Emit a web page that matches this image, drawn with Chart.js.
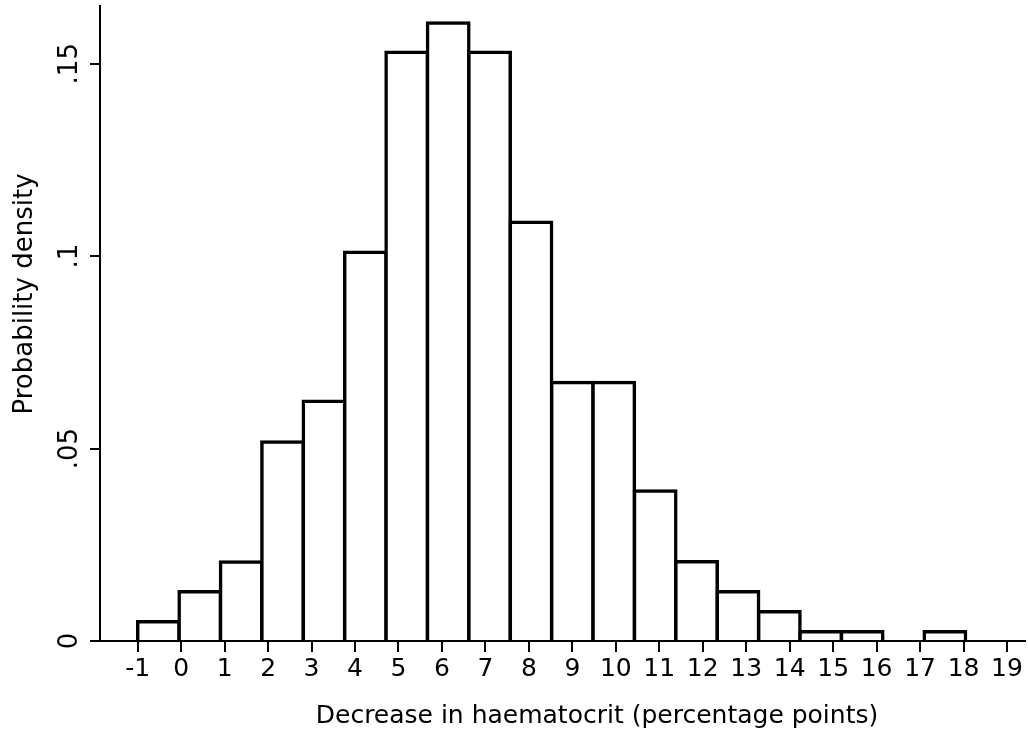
<!DOCTYPE html>
<html>
<head>
<meta charset="utf-8">
<script src="https://cdn.jsdelivr.net/npm/chart.js@4/dist/chart.umd.min.js"></script>
<style>
html,body{margin:0;padding:0;background:#fff;}
canvas{display:block;}
</style>
</head>
<body>
<canvas id="c" width="1028" height="736"></canvas>
<script>
// Bin centres (21 equal bins spanning -1 .. 19)
const binCenters = [-0.524, 0.429, 1.381, 2.333, 3.286, 4.238, 5.190, 6.143, 7.095, 8.048, 9.000,
                    9.952, 10.905, 11.857, 12.810, 13.762, 14.714, 15.667, 16.619, 17.571, 18.524];
// Probability density per bin
const densities = [0.0050, 0.0128, 0.0205, 0.0517, 0.0623, 0.1010, 0.1530, 0.1606, 0.1530, 0.1088, 0.0672,
                   0.0672, 0.0390, 0.0206, 0.0128, 0.0076, 0.0024, 0.0024, 0, 0.0024, 0];
const xTickValues = [-1, 0, 1, 2, 3, 4, 5, 6, 7, 8, 9, 10, 11, 12, 13, 14, 15, 16, 17, 18, 19];
const yTickValues = [0, 0.05, 0.1, 0.15];
const yTickLabels = ['0', '.05', '.1', '.15'];
const xTitle = 'Decrease in haematocrit (percentage points)';
const yTitle = 'Probability density';

const FONT = '"DejaVu Sans", sans-serif';

const textPlugin = {
  id: 'axisText',
  afterDraw(chart) {
    const ctx = chart.ctx;
    const ys = chart.scales.y;
    ctx.save();
    ctx.fillStyle = '#000';
    // rotated y tick labels
    ctx.font = '26px ' + FONT;
    ctx.textAlign = 'center';
    ctx.textBaseline = 'alphabetic';
    ys.ticks.forEach((t) => {
      const py = ys.getPixelForValue(t.value);
      ctx.save();
      ctx.translate(77, py);
      ctx.rotate(-Math.PI / 2);
      ctx.fillText(t.label, 0, 0);
      ctx.restore();
    });
    // axis titles
    ctx.font = '25px ' + FONT;
    ctx.fillText(xTitle, 597, 723);
    ctx.save();
    ctx.translate(32, 294);
    ctx.rotate(-Math.PI / 2);
    ctx.font = '26px ' + FONT;
    ctx.fillText(yTitle, 0, 0);
    ctx.restore();
    ctx.restore();
  }
};

new Chart(document.getElementById('c'), {
  type: 'bar',
  data: {
    datasets: [{
      data: binCenters.map((x, i) => ({ x: x, y: densities[i] })),
      backgroundColor: '#ffffff',
      borderColor: '#000000',
      borderWidth: 3.5,
      inflateAmount: 1.75,
      borderSkipped: 'start',
      barPercentage: 1,
      categoryPercentage: 1,
      clip: 0
    }]
  },
  options: {
    responsive: false,
    animation: false,
    devicePixelRatio: 1,
    layout: { padding: { top: 6, right: 3, left: 0, bottom: 0 } },
    plugins: { legend: { display: false }, tooltip: { enabled: false }, title: { display: false } },
    scales: {
      x: {
        type: 'linear',
        offset: false,
        min: -1.867,
        max: 19.414,
        z: 1,
        afterBuildTicks: (s) => { s.ticks = xTickValues.map(v => ({ value: v })); },
        afterFit: (s) => { s.height = 95; },
        grid: { offset: false, drawOnChartArea: false, drawTicks: true, tickLength: 11, color: '#000', lineWidth: 2 },
        border: { display: true, color: '#000', width: 2 },
        ticks: {
          autoSkip: false, maxRotation: 0, minRotation: 0, padding: 2, color: '#000',
          font: { family: FONT, size: 25 },
          callback: (v) => String(v)
        }
      },
      y: {
        type: 'linear',
        min: 0,
        max: 0.165,
        z: 1,
        afterBuildTicks: (s) => { s.ticks = yTickValues.map(v => ({ value: v })); },
        afterFit: (s) => { s.width = 100; },
        grid: { drawOnChartArea: false, drawTicks: true, tickLength: 10, color: '#000', lineWidth: 2 },
        border: { display: true, color: '#000', width: 2 },
        ticks: {
          display: false,
          callback: (v) => yTickLabels[yTickValues.indexOf(v)]
        }
      }
    }
  },
  plugins: [textPlugin]
});
</script>
</body>
</html>
